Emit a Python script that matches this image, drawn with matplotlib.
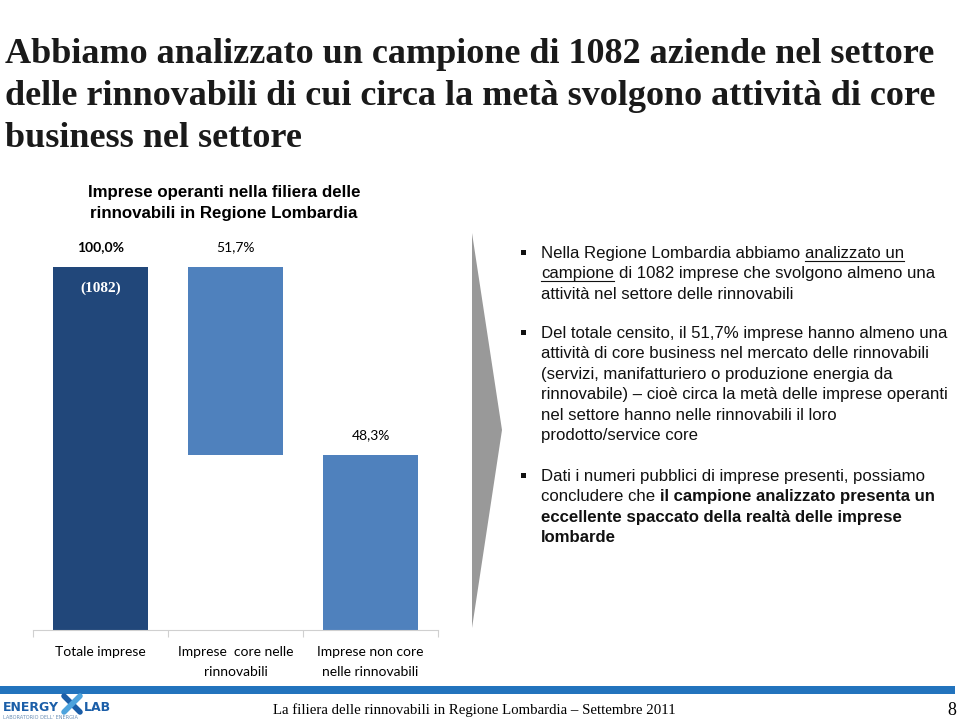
import matplotlib
matplotlib.use("Agg")
import matplotlib.pyplot as plt
from matplotlib.patches import Polygon, Rectangle
from matplotlib.lines import Line2D

# data
categories = ["Totale imprese", "Imprese  core nelle\nrinnovabili", "Imprese non core\nnelle rinnovabili"]
total_pct = 100.0
core_pct = 51.7
non_core_pct = 48.3
bar_heights = [total_pct, core_pct, non_core_pct]
bar_bottoms = [0, total_pct - core_pct, 0]
value_labels = ["100,0%", "51,7%", "48,3%"]
sample_size = "(1082)"

W, H = 960, 721
fig = plt.figure(figsize=(W / 100, H / 100), dpi=100)


def fx(x):
    return x / W


def fy(y):
    return 1 - y / H


# title
title_lines = ["Abbiamo analizzato un campione di 1082 aziende nel settore",
               "delle rinnovabili di cui circa la metà svolgono attività di core",
               "business nel settore"]
for i, line in enumerate(title_lines):
    fig.text(fx(5), fy(63 + i * 42), line, fontsize=26, weight="bold",
             family="Liberation Serif", color="#1a1a1a", va="baseline")

# chart subtitle
fig.text(fx(224), fy(197), "Imprese operanti nella filiera delle", fontsize=12.2,
         weight="bold", family="Liberation Sans", ha="center", va="baseline")
fig.text(fx(224), fy(218), "rinnovabili in Regione Lombardia", fontsize=12.2,
         weight="bold", family="Liberation Sans", ha="center", va="baseline")

# bar chart
ax = fig.add_axes([fx(33), fy(630), (438 - 33) / W, (630 - 267) / H])
x = list(range(len(categories)))
colors = ["#21477A", "#4F81BD", "#4F81BD"]
ax.bar(x, bar_heights, bottom=bar_bottoms, width=0.71, color=colors)
ax.set_xlim(-0.5, 2.5)
ax.set_ylim(0, 100)
for s in ["left", "right", "top"]:
    ax.spines[s].set_visible(False)
ax.spines["bottom"].set_color("#D0D0D0")
ax.set_yticks([])
ax.set_xticks([-0.5, 0.5, 1.5, 2.5])
ax.set_xticklabels([])
ax.tick_params(axis="x", length=5, color="#D0D0D0")
for i, cat in enumerate(categories):
    ax.text(i, -4.3, cat, ha="center", va="top", fontsize=10, family="Lato",
            linespacing=1.85)
for i, lab in enumerate(value_labels):
    top = bar_bottoms[i] + bar_heights[i]
    ax.text(i, top + 4.4, lab, ha="center", va="baseline", fontsize=10,
            family="Lato", weight="bold" if i == 0 else "normal")
ax.text(0, 100 - 6.9, sample_size, ha="center", va="baseline", fontsize=11,
        family="Liberation Serif", weight="bold", color="white")

# arrow
fig.patches.append(Polygon([(fx(472), fy(233)), (fx(502), fy(430)), (fx(472), fy(628))],
                           closed=True, transform=fig.transFigure,
                           facecolor="#999999", edgecolor="none"))

# bullet text
renderer = fig.canvas.get_renderer()
TS = 12.1
FAM = "Liberation Sans"


def width_of(s, bold=False):
    t = fig.text(0, 0, s, fontsize=TS, family=FAM, weight="bold" if bold else "normal")
    w = t.get_window_extent(renderer).width
    t.remove()
    return w


sp = width_of("a a") - width_of("aa")
sp_b = width_of("a a", True) - width_of("aa", True)


def draw_runs(x0, y, runs):
    xc = x0
    for k, (txt, bold, under) in enumerate(runs):
        if k > 0:
            xc += sp_b if bold else sp
        t = fig.text(fx(xc), fy(y), txt, fontsize=TS, family=FAM, va="baseline",
                     weight="bold" if bold else "normal", color="#111111")
        w = t.get_window_extent(renderer).width
        if under:
            fig.lines.append(Line2D([fx(xc), fx(xc + w)], [fy(y + 2.5), fy(y + 2.5)],
                                    transform=fig.transFigure, color="#111111", lw=0.8))
        xc += w


paragraphs = [
    [[("Nella Regione Lombardia abbiamo", False, False), ("analizzato un", False, True)],
     [("campione", False, True), ("di 1082 imprese che svolgono almeno una", False, False)],
     [("attività nel settore delle rinnovabili", False, False)]],
    [[("Del totale censito, il 51,7% imprese hanno almeno una", False, False)],
     [("attività di core business nel mercato delle rinnovabili", False, False)],
     [("(servizi, manifatturiero o produzione energia da", False, False)],
     [("rinnovabile) – cioè circa la metà delle imprese operanti", False, False)],
     [("nel settore hanno nelle rinnovabili il loro", False, False)],
     [("prodotto/service core", False, False)]],
    [[("Dati i numeri pubblici di imprese presenti, possiamo", False, False)],
     [("concludere che", False, False), ("il campione analizzato presenta un", True, False)],
     [("eccellente spaccato della realtà delle imprese", True, False)],
     [("lombarde", True, False)]],
]
para_start = [258, 338, 481]
for p, lines in enumerate(paragraphs):
    y0 = para_start[p]
    fig.patches.append(Rectangle((fx(521), fy(y0 - 3.5)), 5 / W, 5 / H,
                                 transform=fig.transFigure, facecolor="#111111"))
    for j, runs in enumerate(lines):
        draw_runs(541, y0 + j * 20.4, runs)

# footer bar
fig.patches.append(Rectangle((0, fy(694)), 955 / W, 8 / H, transform=fig.transFigure,
                             facecolor="#2273BD", edgecolor="none"))
fig.text(fx(273), fy(714), "La filiera delle rinnovabili in Regione Lombardia – Settembre 2011",
         fontsize=10.7, family="Liberation Serif", va="baseline")
fig.text(fx(956), fy(715), "8", fontsize=13, family="Liberation Serif", va="baseline", ha="right")

# logo
fig.text(fx(3), fy(711), "ENERGY", fontsize=9, weight="bold", family="DejaVu Sans",
         color="#1B5EA8", va="baseline")
fig.text(fx(84), fy(711), "LAB", fontsize=9, weight="bold", family="DejaVu Sans",
         color="#1B5EA8", va="baseline")
fig.lines.append(Line2D([fx(64), fx(80)], [fy(696), fy(712)], transform=fig.transFigure,
                        color="#1B5EA8", lw=4, solid_capstyle="round"))
fig.lines.append(Line2D([fx(64), fx(80)], [fy(712), fy(696)], transform=fig.transFigure,
                        color="#4DA3DD", lw=4, solid_capstyle="round"))
fig.text(fx(3), fy(719), "LABORATORIO DELL' ENERGIA", fontsize=3.6, family="DejaVu Sans",
         color="#6A8FB5", va="baseline")

fig.savefig("out.png", dpi=100)
